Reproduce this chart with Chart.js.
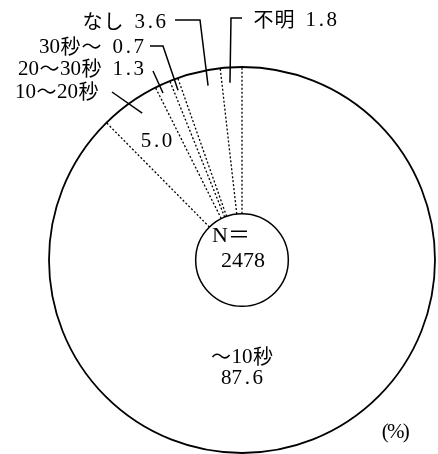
<!DOCTYPE html>
<html><head><meta charset="utf-8">
<script src="https://cdn.jsdelivr.net/npm/chart.js@4"></script>
<style>html,body{margin:0;padding:0;background:#fff}canvas{display:block}</style>
</head><body>
<canvas id="c" width="438" height="454"></canvas>
<script>
// ---- data ----
const categories = ['～10秒', '10～20秒', '20～30秒', '30秒～', 'なし', '不明'];
const values = [87.6, 5.0, 1.3, 0.7, 3.6, 1.8];
const sampleLabel = 'N＝';
const sampleSize = '2478';
const unitLabel = '(%)';

// ---- annotation layout (positions only) ----
const FONT_HALF = '21px "Liberation Serif", serif';
const FONT_FULL = '20px "Noto Sans CJK JP", sans-serif';
const HALF = 10.5, FULL = 21;
const FONT_N = '22px "Liberation Serif", "Noto Sans CJK JP", serif';
const outside = [
  {i: 4, x: 166, y: 21, align: 'right', elbow: [[175, 20], [200, 20]], t: 0.65, rf: 0.92, withValue: true},
  {i: 5, x: 253, y: 19, align: 'left',  elbow: [[242, 18], [231, 18]], t: 0.40, rf: 0.92, withValue: true},
  {i: 3, x: 144, y: 46, align: 'right', elbow: [[150, 46], [163, 46]], t: 0.52, rf: 0.94, withValue: true},
  {i: 2, x: 144, y: 68, align: 'right', elbow: [[153, 71]], t: 0.28, rf: 0.957, withValue: true},
  {i: 1, x: 99,  y: 91, align: 'right', elbow: [[112, 92]], t: 0.58, rf: 0.92, withValue: false}
];

function isHalf(ch) { return ch.charCodeAt(0) < 0x2000; }
function monoText(ctx, text, x, y, align) {
  const chars = Array.from(text);
  const w = chars.reduce((s, c) => s + (isHalf(c) ? HALF : FULL), 0);
  let sx = align === 'right' ? x - w : align === 'center' ? x - w / 2 : x;
  ctx.textAlign = 'center';
  ctx.textBaseline = 'middle';
  chars.forEach(c => {
    const cw = isHalf(c) ? HALF : FULL;
    ctx.font = isHalf(c) ? FONT_HALF : FONT_FULL;
    ctx.fillText(c, sx + cw / 2, y + (isHalf(c) ? 1 : 0));
    sx += cw;
  });
}

const overlay = {
  id: 'overlay',
  afterDatasetsDraw(chart) {
    const ctx = chart.ctx;
    const arcs = chart.getDatasetMeta(0).data;
    const a0 = arcs[0];
    const cx = a0.x, cy = a0.y, R = a0.outerRadius, r = a0.innerRadius;
    const pt = (ang, rad) => [cx + Math.cos(ang) * rad, cy + Math.sin(ang) * rad];
    ctx.save();
    ctx.strokeStyle = '#000';
    // dotted separators
    ctx.setLineDash([2, 2]);
    ctx.lineWidth = 1.3;
    arcs.forEach(a => {
      const p1 = pt(a.startAngle, r), p2 = pt(a.startAngle, R);
      ctx.beginPath(); ctx.moveTo(p1[0], p1[1]); ctx.lineTo(p2[0], p2[1]); ctx.stroke();
    });
    ctx.setLineDash([]);
    // outer & inner circles
    ctx.lineWidth = 1.8;
    ctx.beginPath(); ctx.arc(cx, cy, R, 0, Math.PI * 2); ctx.stroke();
    ctx.lineWidth = 1.5;
    ctx.beginPath(); ctx.arc(cx, cy, r, 0, Math.PI * 2); ctx.stroke();

    // outside labels and leaders
    ctx.fillStyle = '#000';
    ctx.lineWidth = 1.5;
    outside.forEach(o => {
      const a = arcs[o.i];
      const ang = a.startAngle + (a.endAngle - a.startAngle) * o.t;
      const end = pt(ang, R * o.rf);
      ctx.beginPath();
      ctx.moveTo(o.elbow[0][0], o.elbow[0][1]);
      for (let k = 1; k < o.elbow.length; k++) ctx.lineTo(o.elbow[k][0], o.elbow[k][1]);
      ctx.lineTo(end[0], end[1]);
      ctx.stroke();
      const txt = o.withValue ? categories[o.i] + ' ' + values[o.i].toFixed(1) : categories[o.i];
      monoText(ctx, txt, o.x, o.y, o.align);
    });

    // value inside the 10～20秒 slice
    const a1 = arcs[1];
    const m1 = pt((a1.startAngle + a1.endAngle) / 2, R * 0.76);
    monoText(ctx, values[1].toFixed(1), m1[0], m1[1], 'center');

    // main slice label
    monoText(ctx, categories[0], cx, cy + 96, 'center');
    monoText(ctx, values[0].toFixed(1), cx, cy + 117, 'center');

    // unit
    monoText(ctx, unitLabel, 380, 431, 'left');

    // centre
    ctx.font = FONT_N;
    ctx.textAlign = 'center';
    ctx.textBaseline = 'middle';
    ctx.fillText(sampleLabel, cx - 11, cy - 24);
    ctx.fillText(sampleSize, cx + 1, cy + 1);
    ctx.restore();
  }
};

new Chart(document.getElementById('c'), {
  type: 'doughnut',
  data: {
    labels: categories,
    datasets: [{
      data: values,
      backgroundColor: '#ffffff',
      borderWidth: 0,
      hoverBorderWidth: 0,
      offset: 0,
      hoverOffset: 0
    }]
  },
  options: {
    responsive: false,
    animation: false,
    events: [],
    cutout: '24%',
    rotation: 0,
    layout: {padding: {left: 49, right: 3, top: 67, bottom: 1}},
    plugins: {legend: {display: false}, tooltip: {enabled: false}}
  },
  plugins: [overlay]
});
</script>
</body></html>
